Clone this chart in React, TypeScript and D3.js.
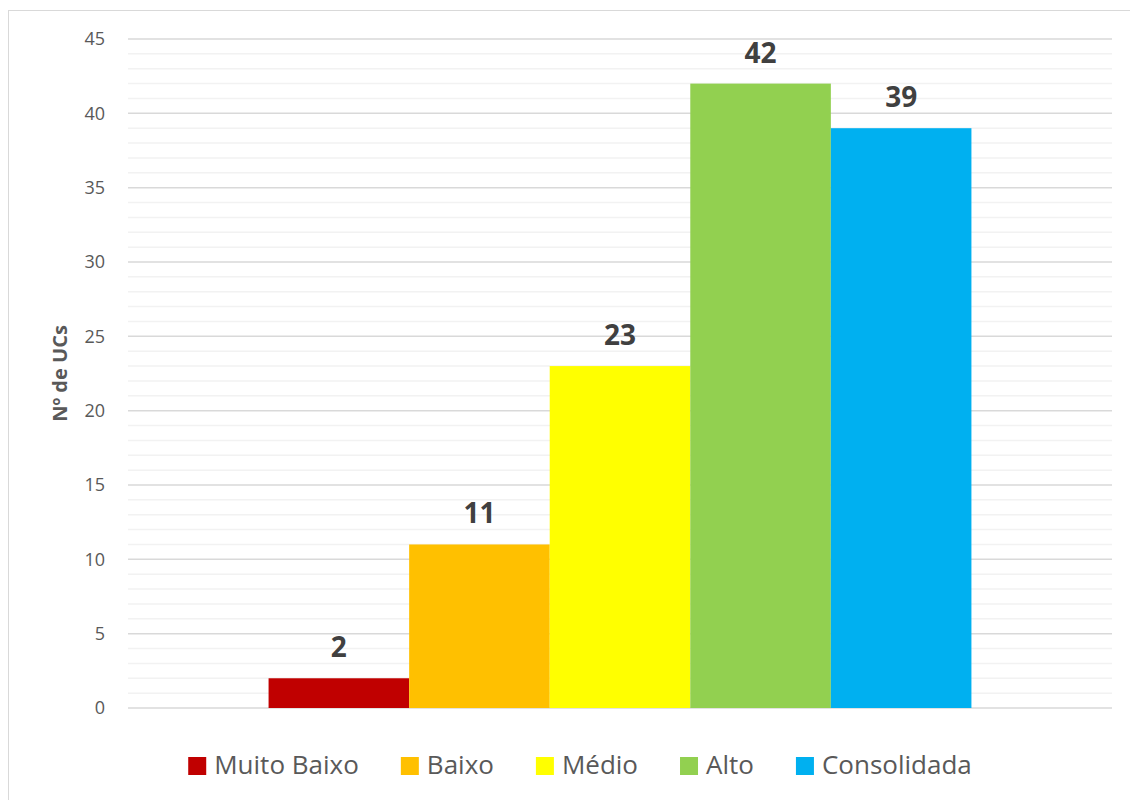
import React, { useEffect, useRef } from "react";
import * as d3 from "d3";

const categories = ["Muito Baixo", "Baixo", "Médio", "Alto", "Consolidada"];
const values = [2, 11, 23, 42, 39];
const colors = ["#C00000", "#FFC000", "#FFFF00", "#92D050", "#00B0F0"];
const yTicks = [0, 5, 10, 15, 20, 25, 30, 35, 40, 45];
const yTitle = "Nº de UCs";

const W = 1130;
const H = 800;
const FONT = "'Open Sans', 'Liberation Sans', sans-serif";

export default function App() {
  const ref = useRef<SVGSVGElement | null>(null);

  useEffect(() => {
    const svg = d3.select(ref.current);
    svg.selectAll("*").remove();

    svg.append("rect").attr("x", 8.5).attr("y", 10.5).attr("width", W + 20).attr("height", H + 20)
      .attr("fill", "#fff").attr("stroke", "#d9d9d9").attr("stroke-width", 1);

    const left = 128, right = 1112, top = 39, bottom = 708;
    const y = d3.scaleLinear().domain([0, 45]).range([bottom, top]);
    const outer = d3.scaleBand().domain(["g"]).range([left, right]).paddingInner(0).paddingOuter(0);
    const groupW = outer.bandwidth();
    const barW = groupW / (categories.length + 2);
    const x = d3.scaleBand().domain(categories)
      .range([left + barW, left + groupW - barW]).padding(0);

    // minor gridlines
    const minor = d3.range(0, 46).filter((v) => v % 5 !== 0);
    svg.append("g").selectAll("line").data(minor).join("line")
      .attr("x1", left).attr("x2", right)
      .attr("y1", (d) => y(d)).attr("y2", (d) => y(d))
      .attr("stroke", "#f2f2f2").attr("stroke-width", 1.5);
    // major gridlines
    svg.append("g").selectAll("line").data(yTicks).join("line")
      .attr("x1", left).attr("x2", right)
      .attr("y1", (d) => y(d)).attr("y2", (d) => y(d))
      .attr("stroke", "#d9d9d9").attr("stroke-width", 1.5);

    // tick labels
    svg.append("g").selectAll("text").data(yTicks).join("text")
      .attr("x", 105).attr("y", (d) => y(d)).attr("dy", "0.36em")
      .attr("text-anchor", "end").attr("font-family", FONT).attr("font-size", 18)
      .attr("fill", "#595959").text((d) => String(d));

    // y title
    svg.append("text")
      .attr("transform", `translate(67, ${(top + bottom) / 2}) rotate(-90)`)
      .attr("text-anchor", "middle").attr("font-family", FONT).attr("font-size", 20)
      .attr("font-weight", "bold").attr("fill", "#595959").text(yTitle);

    // bars
    svg.append("g").selectAll("rect").data(values).join("rect")
      .attr("x", (_, i) => x(categories[i])!)
      .attr("width", x.bandwidth())
      .attr("y", (d) => y(d))
      .attr("height", (d) => bottom - y(d))
      .attr("fill", (_, i) => colors[i]);

    // data labels
    svg.append("g").selectAll("text").data(values).join("text")
      .attr("x", (_, i) => x(categories[i])! + x.bandwidth() / 2)
      .attr("y", (d) => y(d) - 21)
      .attr("text-anchor", "middle").attr("font-family", FONT).attr("font-size", 28)
      .attr("font-weight", "bold").attr("fill", "#404040").text((d) => String(d));

    // legend
    const lg = svg.append("g");
    const sq = 18, gapAfterSq = 8, itemGap = 42;
    const items = categories.map((c, i) => {
      const g = lg.append("g");
      g.append("rect").attr("width", sq).attr("height", sq).attr("y", -sq / 2 + 1).attr("fill", colors[i]);
      const t = g.append("text").attr("x", sq + gapAfterSq).attr("dy", "0.36em")
        .attr("font-family", FONT).attr("font-size", 26).attr("fill", "#595959").text(c);
      const w = sq + gapAfterSq + (t.node() as SVGTextElement).getComputedTextLength();
      return { g, w };
    });
    const total = items.reduce((s, it) => s + it.w, 0) + itemGap * (items.length - 1);
    let cx = (left + right) / 2 - total / 2 - 40;
    items.forEach((it) => {
      it.g.attr("transform", `translate(${cx}, 765)`);
      cx += it.w + itemGap;
    });
  }, []);

  return (
    <svg ref={ref} width={W} height={H} style={{ display: "block", position: "absolute", left: 0, top: 0 }} />
  );
}
